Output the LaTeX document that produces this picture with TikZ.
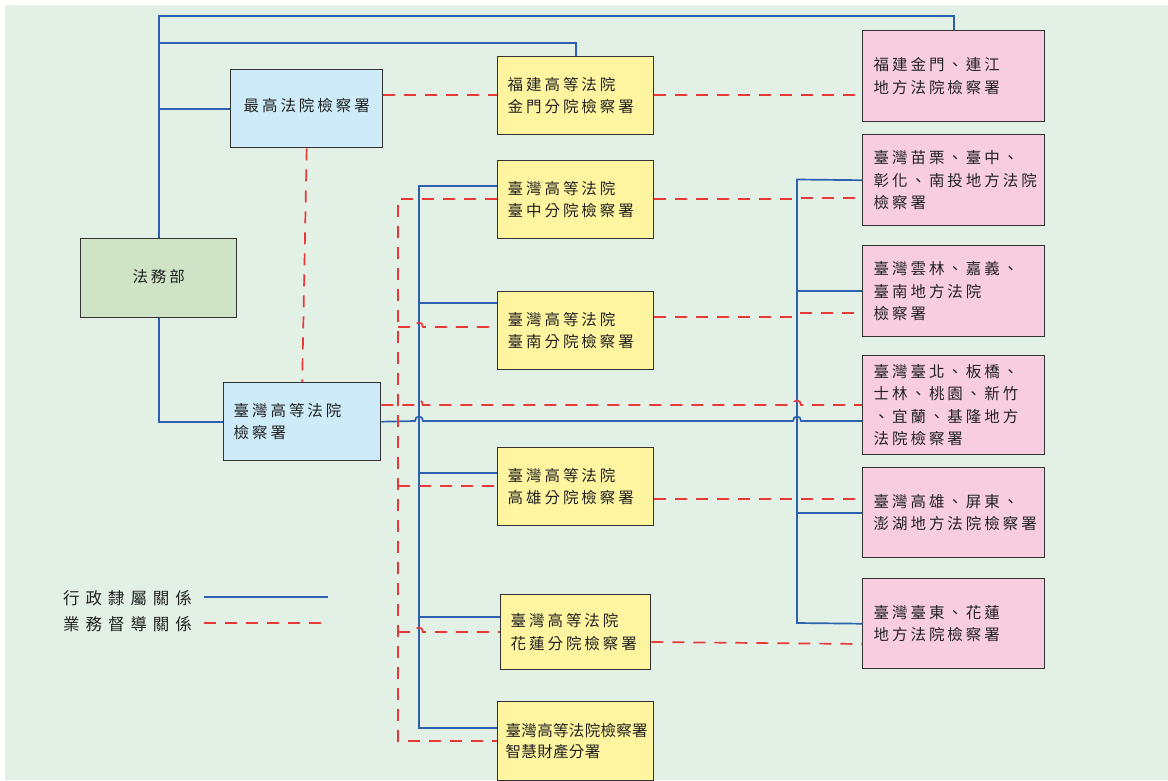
\documentclass[tikz,border=0pt]{standalone}
\usepackage{fontspec}
\newfontfamily\cjk{Noto Sans CJK TC}[LetterSpace=19]
\newfontfamily\cjkn{Noto Sans CJK TC}[LetterSpace=2]
\newfontfamily\cjkl{Noto Sans CJK TC}[LetterSpace=36]
\definecolor{bg}{HTML}{E2F0E6}
\definecolor{gfill}{HTML}{CFE4C6}
\definecolor{bfill}{HTML}{CDEBF8}
\definecolor{yfill}{HTML}{FFF5A0}
\definecolor{pfill}{HTML}{F8CDE0}
\definecolor{edge}{HTML}{333333}
\definecolor{txt}{HTML}{222222}
\definecolor{admc}{HTML}{2E60B0}
\definecolor{supc}{HTML}{E83838}
\tikzset{
  box/.style={draw=edge, line width=1.4pt, anchor=north west, inner xsep=10pt, inner ysep=0pt,
    font=\cjk\fontsize{15.5}{22.5}\selectfont, text=txt, align=left},
  gbox/.style={box, fill=gfill, align=center},
  bbox/.style={box, fill=bfill},
  ybox/.style={box, fill=yfill, minimum width=156pt, text width=136pt, minimum height=78pt},
  pbox/.style={box, fill=pfill, minimum width=182pt, text width=160pt, inner xsep=11pt},
  adm/.style={draw=admc, line width=1.7pt},
  supv/.style={draw=supc, line width=1.7pt, dash pattern=on 12pt off 9pt},
  legend/.style={anchor=west, inner sep=0pt, font=\cjkl\fontsize{16.5}{20}\selectfont, text=txt}
}
\begin{document}
\begin{tikzpicture}[x=1pt,y=-1pt]
\useasboundingbox (0,0) rectangle (1168,780);
\fill[white] (0,0) rectangle (1168,780);
\fill[bg] (5,5) rectangle (1168,780);

% nodes
\node[gbox, minimum width=156pt, text width=136pt, minimum height=79pt] (moj) at (80,238) {\raisebox{5pt}{法務部}};
\node[bbox, align=center, minimum width=152pt, text width=132pt, minimum height=78pt] (sup) at (230,69) {\raisebox{8pt}{最高法院檢察署}};
\node[bbox, minimum width=157pt, text width=137pt, minimum height=78pt] (twh) at (223,382) {臺灣高等法院\\檢察署};

\node[ybox] (fjh) at (497,56) {福建高等法院\\金門分院檢察署};
\node[ybox] (tch) at (497,160) {臺灣高等法院\\臺中分院檢察署};
\node[ybox] (tnn) at (497,291) {臺灣高等法院\\臺南分院檢察署};
\node[ybox] (ksh) at (497,447) {臺灣高等法院\\高雄分院檢察署};
\node[ybox, minimum width=150pt, text width=130pt, minimum height=75pt] (hlh) at (500,594) {臺灣高等法院\\花蓮分院檢察署};
\node[ybox, inner xsep=8pt, text width=140pt, minimum height=79pt, font=\cjkn\fontsize{15.5}{21}\selectfont] (ipc) at (497,701) {臺灣高等法院檢察署\\智慧財產分署};

\node[pbox, minimum height=91pt] (fjd) at (862,30) {福建金門、連江\\地方法院檢察署};
\node[pbox, minimum height=91pt] (mtc) at (862,134) {臺灣苗栗、臺中、\\彰化、南投地方法院\\檢察署};
\node[pbox, minimum height=91pt] (ycn) at (862,245) {臺灣雲林、嘉義、\\臺南地方法院\\檢察署};
\node[pbox, minimum height=99pt] (tpe) at (862,355) {臺灣臺北、板橋、\\士林、桃園、新竹\\、宜蘭、基隆地方\\法院檢察署};
\node[pbox, minimum height=90pt] (ksd) at (862,467) {臺灣高雄、屏東、\\澎湖地方法院檢察署};
\node[pbox, minimum height=90pt] (ttd) at (862,578) {臺灣臺東、花蓮\\地方法院檢察署};

% legend
\node[legend] (lg1) at (63,598) {行政隸屬關係};
\node[legend] (lg2) at (63,624) {業務督導關係};
\coordinate (la1) at (204,597);
\coordinate (lb1) at (328,597);
\coordinate (la2) at (204,623);
\coordinate (lb2) at (328,623);
\draw[adm] (la1) -- (lb1);
\draw[supv] (la2) -- (lb2);

% administrative lines
\draw[adm] (moj.north) -- (moj.north |- 0,16) -- (fjd.north |- 0,16) -- (fjd.north);
\draw[adm] (moj.north |- 0,43) -- (fjh.north |- 0,43) -- (fjh.north);
\draw[adm] (moj.north |- sup.west) -- (sup.west);
\draw[adm] (moj.south) -- (moj.south |- twh.west) -- (twh.west);
\draw[adm] (twh.east) -- (415,421) .. controls (415,415) and (423,415) .. (423,421)
  -- (793,421) .. controls (793,415) and (801,415) .. (801,421) -- (tpe.west |- 0,421);
\draw[adm] (tch.west |- 0,186) -- (419,186) -- (419,728) -- (ipc.west |- 0,728);
\draw[adm] (419,303) -- (tnn.west |- 0,303);
\draw[adm] (419,473) -- (ksh.west |- 0,473);
\draw[adm] (419,617) -- (hlh.west |- 0,617);
\draw[adm] (mtc.west) -- (797,179.5) -- (797,623) -- (ttd.west);
\draw[adm] (797,291) -- (ycn.west |- 0,291);
\draw[adm] (797,513) -- (ksd.west |- 0,513);

% supervision lines
\draw[supv] (sup.east |- 0,95) -- (fjh.west |- 0,95);
\draw[supv] (fjh.east |- 0,95) -- (fjd.west |- 0,95);
\draw[supv] (sup.south) -- (twh.north);
\draw[supv] (tch.west |- 0,199.3) -- (398,199.3) -- (398,741) -- (ipc.west |- 0,741);
\draw[supv] (398,327) -- (415,327) .. controls (415,321) and (423,321) .. (423,327) -- (tnn.west |- 0,327);
\draw[supv] (398,486) -- (ksh.west |- 0,486);
\draw[supv] (398,632) -- (415,632) .. controls (415,626) and (423,626) .. (423,632) -- (hlh.west |- 0,632);
\draw[supv] (twh.east |- 0,405) -- (415,405) .. controls (415,399) and (423,399) .. (423,405)
  -- (793,405) .. controls (793,399) and (801,399) .. (801,405) -- (tpe.west |- 0,405);
\draw[supv] (tch.east |- 0,199.3) -- (793,199.3) .. controls (795,199.3) and (796,198.2) .. (799,198.2) -- (mtc.west |- 0,198.2);
\draw[supv] (tnn.east |- 0,317) -- (793,317) .. controls (795,317) and (796,313) .. (799,313) -- (ycn.west |- 0,313);
\draw[supv] (ksh.east |- 0,499) -- (ksd.west |- 0,499);
\draw[supv] (hlh.east |- 0,642) -- (ttd.west |- 0,644);
\end{tikzpicture}
\end{document}
